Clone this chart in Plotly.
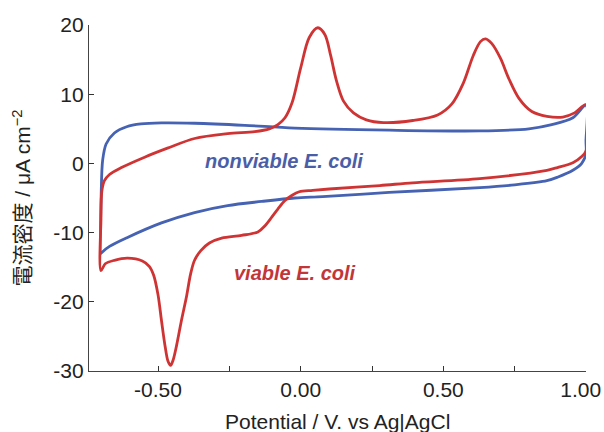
import plotly.graph_objects as go

# Nonviable E. coli (blue) – forward and reverse scans
nonviable_fwd_E = [-0.700, -0.699, -0.694, -0.682, -0.653, -0.610, -0.560, -0.488, -0.372, -0.196, -0.021, 0.310, 0.628, 0.800, 0.880, 0.954, 1.000]
nonviable_fwd_I = [-13.0, -4.0, 0.5, 2.8, 4.4, 5.3, 5.7, 5.85, 5.8, 5.5, 5.1, 4.8, 4.7, 5.0, 5.6, 6.6, 8.4]
nonviable_rev_E = [1.000, 1.000, 0.985, 0.954, 0.900, 0.863, 0.750, 0.628, 0.310, 0.077, -0.021, -0.137, -0.256, -0.372, -0.488, -0.607, -0.670, -0.698, -0.700]
nonviable_rev_I = [3.2, 1.4, 0.0, -1.0, -2.0, -2.5, -3.1, -3.5, -4.2, -4.8, -5.0, -5.5, -6.1, -7.1, -8.6, -10.7, -12.0, -12.9, -13.0]

# Viable E. coli (red) – forward and reverse scans
viable_fwd_E = [-0.700, -0.700, -0.697, -0.688, -0.670, -0.628, -0.547, -0.467, -0.372, -0.256, -0.161, -0.110,
                -0.080, -0.055, -0.030, 0.000, 0.030, 0.060, 0.085, 0.105, 0.125, 0.150, 0.185, 0.230, 0.290,
                0.393, 0.480, 0.530, 0.570, 0.605, 0.630, 0.648, 0.670, 0.700, 0.730, 0.765, 0.810, 0.863,
                0.919, 0.960, 1.000]
viable_fwd_I = [-15.5, -8.0, -4.0, -2.5, -1.6, -0.6, 0.9, 2.2, 3.6, 4.3, 4.6, 5.0,
                5.6, 6.6, 8.8, 13.8, 18.2, 19.6, 18.6, 15.6, 12.0, 9.0, 7.3, 6.3, 5.9,
                6.2, 7.0, 8.6, 11.6, 15.6, 17.6, 18.0, 17.3, 15.2, 12.2, 9.4, 7.5, 6.8,
                6.7, 7.3, 8.5]
viable_rev_E = [1.000, 0.985, 0.954, 0.900, 0.863, 0.628, 0.393, 0.277, 0.100, 0.042, -0.005, -0.030, -0.056, -0.080, -0.102, -0.125, -0.150,
                -0.207, -0.277, -0.320, -0.350, -0.372, -0.386, -0.400, -0.418, -0.435, -0.447, -0.456, -0.465, -0.475, -0.488, -0.500,
                -0.515, -0.530, -0.555, -0.607, -0.653, -0.685, -0.700]
viable_rev_I = [1.8, 1.0, 0.1, -0.6, -1.0, -2.2, -2.8, -3.2, -3.7, -3.9, -4.1, -4.6, -5.4, -6.6, -7.8, -9.0, -9.9,
                -10.4, -10.8, -11.5, -12.6, -14.0, -16.0, -19.2, -22.7, -26.3, -28.4, -29.2, -28.6, -26.5, -22.7, -19.0,
                -16.2, -14.9, -14.1, -13.7, -14.0, -14.5, -15.5]

x_major = [-0.50, 0.00, 0.50, 1.00]
x_labels = ["-0.50", "0.00", "0.50", "1.00\u2002"]
x_minor = [-0.25, 0.25, 0.75]
y_tickvals = [20, 10, 0, -10, -20, -30]
y_ticktext = ["20", "10", "0", "-10", "-20", "-30"]

RED = "#cf3434"
BLUE = "#4662b2"
FONT = "Liberation Sans, Arial, Noto Sans CJK JP, sans-serif"

fig = go.Figure()
fig.add_trace(go.Scatter(
    x=nonviable_fwd_E + nonviable_rev_E, y=nonviable_fwd_I + nonviable_rev_I,
    mode="lines", line=dict(color=BLUE, width=2.8, shape="spline", smoothing=0.9),
    showlegend=False, hoverinfo="skip"))
fig.add_trace(go.Scatter(
    x=viable_fwd_E + viable_rev_E, y=viable_fwd_I + viable_rev_I,
    mode="lines", line=dict(color=RED, width=2.8, shape="spline", smoothing=0.9),
    showlegend=False, hoverinfo="skip"))

fig.add_annotation(x=-0.06, y=0.3, text="<b><i>nonviable E. coli</i></b>", showarrow=False,
                   font=dict(family=FONT, size=20, color="#4a5ea8"))
fig.add_annotation(x=-0.02, y=-15.9, text="<b><i>viable E. coli</i></b>", showarrow=False,
                   font=dict(family=FONT, size=20, color="#c2363a"))
# x-axis title placed as a paper annotation (lower than the default title position)
fig.add_annotation(xref="paper", yref="paper", x=0.5, y=0, yanchor="top", yshift=-37,
                   text="Potential / V. vs Ag|AgCl", showarrow=False,
                   font=dict(family=FONT, size=21, color="#222222"))

fig.update_layout(
    width=604, height=432,
    margin=dict(l=89, r=18, t=25, b=61),
    paper_bgcolor="white", plot_bgcolor="white",
    font=dict(family=FONT, size=21, color="#222222"),
    xaxis=dict(range=[-0.742, 1.0], tickmode="array", tickvals=x_major, ticktext=x_labels,
               ticks="inside", ticklen=5, tickcolor="#333", ticklabeloverflow="allow",
               minor=dict(tickmode="array", tickvals=x_minor, ticks="inside", ticklen=5,
                          tickcolor="#333", showgrid=False),
               showline=True, linecolor="#444",
               linewidth=1.2, showgrid=False, zeroline=False, automargin=False,
               tickfont=dict(size=21)),
    yaxis=dict(range=[-30, 20], tickmode="array", tickvals=y_tickvals, ticktext=y_ticktext,
               ticks="inside", ticklen=5, tickcolor="#333", showline=True, linecolor="#444",
               linewidth=1.2, showgrid=False, zeroline=False, automargin=False,
               tickfont=dict(size=21),
               title=dict(text="電流密度 / μA cm<sup>−2</sup>", font=dict(size=21), standoff=16)),
)

fig.write_html("out.html", post_script="document.body.style.margin='0';",
               config={"displayModeBar": False})
